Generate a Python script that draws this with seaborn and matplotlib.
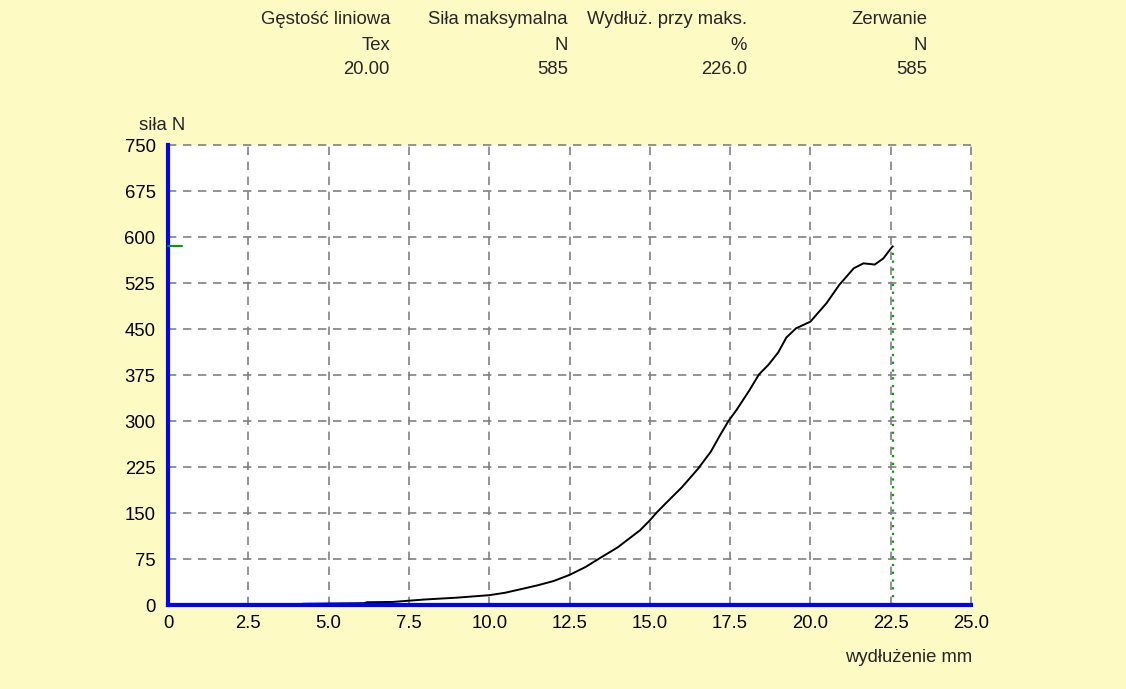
import matplotlib
matplotlib.use("Agg")
import matplotlib.pyplot as plt
import seaborn as sns
import pandas as pd

# Tensile test curve: elongation (mm) vs force (N)
elongation_mm = [0, 1, 2, 3, 4.1, 4.2, 5, 6.1, 6.2, 7, 7.5, 8, 9, 10, 10.5, 11,
                 11.5, 12, 12.5, 13, 13.4, 14, 14.3, 14.7, 15, 15.2, 15.5, 16,
                 16.5, 16.9, 17.2, 17.45, 17.7, 18.1, 18.4, 18.7, 19.0, 19.25,
                 19.55, 20.0, 20.5, 20.9, 21.35, 21.65, 21.85, 22.0, 22.27, 22.56]
force_n = [0, 0, 0, 0, 0.5, 2, 2.5, 3, 4.5, 5, 7, 9, 12, 16, 20, 26,
           32, 39, 49, 62, 75, 94, 106, 122, 138, 150, 166, 192,
           222, 250, 278, 300, 318, 350, 376, 392, 412, 436,
           451, 462, 492, 522, 549, 557, 556, 555, 565, 585]

# Summary table above the chart
header_titles = ["Gęstość liniowa", "Siła maksymalna", "Wydłuż. przy maks.", "Zerwanie"]
header_units = ["Tex", "N", "%", "N"]
header_values = ["20.00", "585", "226.0", "585"]

x_ticks = [0, 2.5, 5.0, 7.5, 10.0, 12.5, 15.0, 17.5, 20.0, 22.5, 25.0]
x_tick_labels = ["0", "2.5", "5.0", "7.5", "10.0", "12.5", "15.0", "17.5", "20.0", "22.5", "25.0"]
y_ticks = [0, 75, 150, 225, 300, 375, 450, 525, 600, 675, 750]

break_force = 585
break_elongation = 22.56

sns.set_style("white")
plt.rcParams["font.family"] = ["Liberation Sans", "DejaVu Sans"]
FS = 13.3

W, H = 1126, 689
fig = plt.figure(figsize=(W / 100, H / 100), dpi=100)
bg = "#fdfac4"
fig.patch.set_facecolor(bg)

left, right, bottom, top = 168, 971, 605, 145
ax = fig.add_axes([left / W, 1 - bottom / H, (right - left) / W, (bottom - top) / H])
ax.set_facecolor("white")

df = pd.DataFrame({"elongation": elongation_mm, "force": force_n})
sns.lineplot(data=df, x="elongation", y="force", ax=ax, color="black",
             linewidth=1.4, zorder=4)

ax.set_xlim(0, 25)
ax.set_ylim(0, 750)
ax.set_xticks(x_ticks)
ax.set_xticklabels(x_tick_labels)
ax.set_yticks(y_ticks)
ax.set_xlabel("")
ax.set_ylabel("")

# dashed grey grid, including the outer edge lines
grid_kw = dict(color="#808080", linewidth=1.2, linestyle=(0, (5, 4)))
for xv in x_ticks[1:]:
    ax.axvline(xv, clip_on=False, zorder=1, **grid_kw)
for yv in y_ticks[1:]:
    ax.axhline(yv, clip_on=False, zorder=1, **grid_kw)

for s in ["top", "right"]:
    ax.spines[s].set_visible(False)
for s in ["left", "bottom"]:
    ax.spines[s].set_color("#0000ff")
    ax.spines[s].set_linewidth(3)
    ax.spines[s].set_zorder(5)

ax.tick_params(axis="both", colors="#0000ff", length=3, width=2,
               labelcolor="black", labelsize=FS, direction="out")
ax.tick_params(axis="x", pad=4)
ax.tick_params(axis="y", pad=6)

# break marker: dotted green vertical line and marker on the force axis
ax.plot([break_elongation, break_elongation], [0, break_force], color="#00a000",
        linewidth=1.6, linestyle=(0, (1, 2.5)), zorder=3)
ax.plot([0, 0.45], [break_force, break_force], color="#00a000", linewidth=1.5,
        zorder=6, clip_on=False)

# axis captions
fig.text(139 / W, 1 - 125 / H, "siła N", ha="left", va="center", fontsize=FS)
fig.text(972 / W, 1 - 657 / H, "wydłużenie mm", ha="right", va="center", fontsize=FS)

# header table
col_right = [390, 568, 747, 927]
row_y = [20, 45, 70]
for i in range(len(header_titles)):
    for r, txt in enumerate([header_titles[i], header_units[i], header_values[i]]):
        fig.text(col_right[i] / W, 1 - row_y[r] / H, txt, ha="right", va="center",
                 fontsize=FS)

fig.savefig("out.png", dpi=100, facecolor=bg)
